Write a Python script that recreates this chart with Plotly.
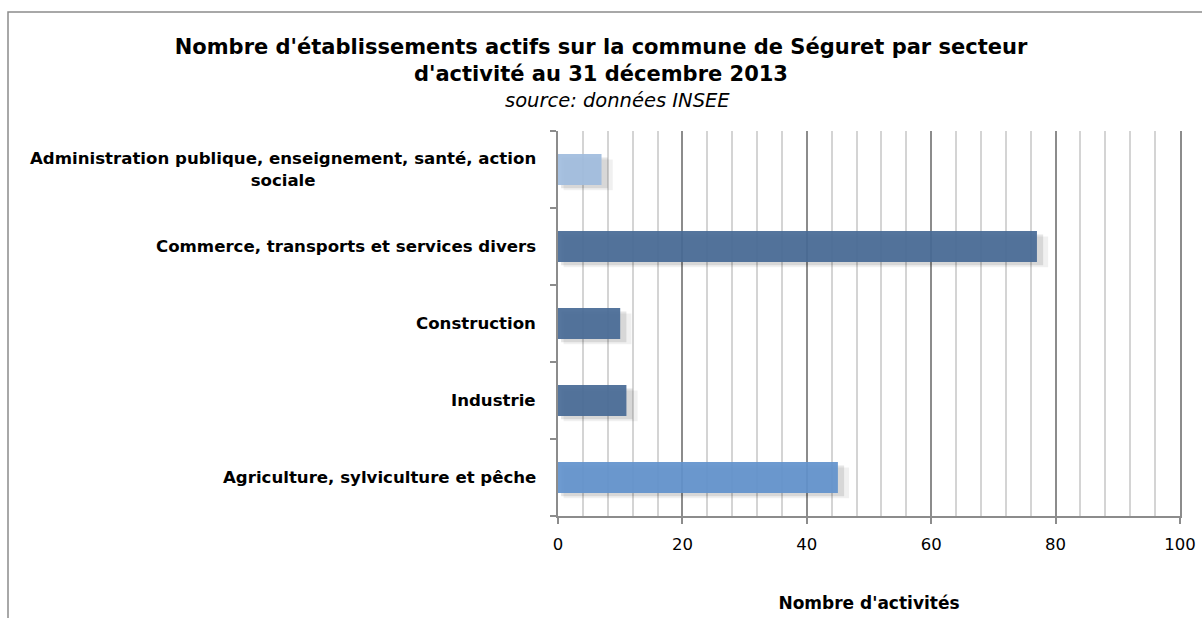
import plotly.graph_objects as go

categories = [
    "Agriculture, sylviculture et pêche",
    "Industrie",
    "Construction",
    "Commerce, transports et services divers",
    "Administration publique, enseignement, santé, action<br>sociale",
]
values = [45, 11, 10, 77, 7]
bar_colors = [
    "rgba(98,146,204,0.93)",
    "rgba(72,106,150,0.93)",
    "rgba(72,106,150,0.93)",
    "rgba(72,106,150,0.93)",
    "rgba(160,188,222,0.93)",
]
x_ticks = [0, 20, 40, 60, 80, 100]

FONT = "DejaVu Sans"
W = 0.4

fig = go.Figure()
# soft drop shadows (derived from the same data)
for dx, dy, a in [(0.9, 0.07, 0.06), (0.5, 0.045, 0.10)]:
    fig.add_trace(go.Bar(
        y=categories, x=[v + dx for v in values], base=[dx] * len(values),
        orientation="h", width=W, offset=-W / 2 - dy,
        marker=dict(color=f"rgba(0,0,0,{a})", line=dict(width=0)),
        hoverinfo="skip", showlegend=False,
    ))
fig.add_trace(go.Bar(
    y=categories, x=values, orientation="h", width=W, offset=-W / 2,
    marker=dict(color=bar_colors, line=dict(width=0)),
    showlegend=False,
))

for c in categories:
    fig.add_annotation(
        x=0, xref="paper", y=c, yref="y", xanchor="right", xshift=-20,
        text=f"<b>{c}</b>", showarrow=False, align="center",
        font=dict(family=FONT, size=16.6, color="black"),
    )

W_FIG, H_FIG = 1202, 618
L, R, T, B = 558, 22, 131, 102
pw = W_FIG - L - R
ph = H_FIG - T - B

fig.add_annotation(
    x=(617 - L) / pw, xref="paper", y=1 + (T - 100) / ph, yref="paper",
    xanchor="center", yanchor="middle", showarrow=False,
    text="<i>source: données INSEE</i>",
    font=dict(family=FONT, size=19.5, color="black"),
)

fig.update_layout(
    width=W_FIG, height=H_FIG,
    margin=dict(l=L, r=R, t=T, b=B, autoexpand=False),
    paper_bgcolor="white", plot_bgcolor="white",
    barmode="overlay",
    title=dict(
        text="<b>Nombre d'établissements actifs sur la commune de Séguret par secteur<br>d'activité au 31 décembre 2013</b>",
        x=0.5, xref="container", xanchor="center", y=1 - 53.5 / H_FIG, yanchor="top",
        font=dict(family=FONT, size=21, color="black"),
    ),
    xaxis=dict(
        range=[0, 100], tickvals=x_ticks, ticktext=[str(t) for t in x_ticks],
        showgrid=True, gridcolor="#8c8c8c", gridwidth=1.5,
        minor=dict(dtick=4, showgrid=True, gridcolor="#d4d4d4", gridwidth=1.5),
        showline=True, linecolor="#8c8c8c", linewidth=2,
        ticks="outside", ticklen=6, tickcolor="#8c8c8c", tickwidth=1.5,
        ticklabelstandoff=6, ticklabeloverflow="allow",
        tickfont=dict(family=FONT, size=16.5, color="black"),
        zeroline=False, automargin=False,
        title=dict(text="<b>Nombre d'activités</b>", standoff=44,
                   font=dict(family=FONT, size=17, color="black")),
    ),
    yaxis=dict(
        showticklabels=False, tickson="boundaries",
        ticks="outside", ticklen=6, tickcolor="#8c8c8c", tickwidth=1.5,
        showline=True, linecolor="#8c8c8c", linewidth=2, mirror=True,
        showgrid=False, zeroline=False, automargin=False,
        range=[-0.5, 4.5],
    ),
    shapes=[dict(type="rect", xref="paper", yref="paper",
                 x0=(8 - L) / pw, x1=2, y0=-1, y1=1 + (T - 12) / ph,
                 line=dict(color="#8c8c8c", width=1.5), layer="below")],
)

fig.write_html(
    "out.html",
    config={"displayModeBar": False},
    post_script="document.body.style.margin='0';document.body.style.overflow='hidden';",
)
